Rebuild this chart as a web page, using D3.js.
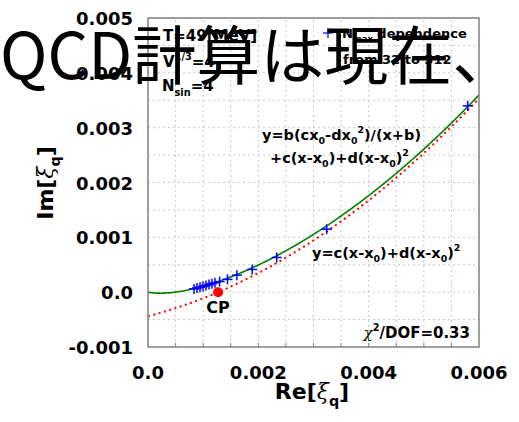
<!DOCTYPE html>
<html>
<head>
<meta charset="utf-8">
<script src="https://cdn.jsdelivr.net/npm/d3@7"></script>
<style>
body { margin: 0; background: #fff; }
text { font-family: "DejaVu Sans", sans-serif; font-weight: bold; fill: #000; }
</style>
</head>
<body>
<svg id="chart" width="519" height="422"></svg>
<script>
// axis ticks
const xTicks = [0, 0.002, 0.004, 0.006];
const xTickLabels = ['0.0', '0.002', '0.004', '0.006'];
const yTicks = [-0.001, 0, 0.001, 0.002, 0.003, 0.004, 0.005];
const yTickLabels = ['-0.001', '0.0', '0.001', '0.002', '0.003', '0.004', '0.005'];

// N_max dependence points (N = 512 ... 32)
const reXi = [0.000834, 0.000888, 0.000943, 0.000997, 0.001051, 0.001106, 0.001160, 0.001214,
              0.001298, 0.001441, 0.001611, 0.001889, 0.002333, 0.003239, 0.005795];
const imXi = [0.000060, 0.000075, 0.000090, 0.000105, 0.000120, 0.000138, 0.000155, 0.000172,
              0.000192, 0.000233, 0.000310, 0.000414, 0.000633, 0.001149, 0.003398];

// critical point
const cpRe = 0.00127;
const cpIm = 0;

// fit parameters
const fitB = 0.001;
const fitC = 0.43;
const fitD = 67;
const fitX0 = 0.00127;

const svg = d3.select('#chart');
const x = d3.scaleLinear().domain([0, 0.006]).range([148, 479]);
const y = d3.scaleLinear().domain([-0.001, 0.005]).range([347, 18]);

// grid
const grid = svg.append('g').attr('stroke', '#c8c8c8').attr('stroke-dasharray', '2,3').attr('stroke-width', 1);
d3.range(1, 12).map(i => i * 0.0005).forEach(v => {
  grid.append('line').attr('x1', x(v)).attr('x2', x(v)).attr('y1', y(-0.001)).attr('y2', y(0.005));
});
d3.range(1, 12).map(i => -0.001 + i * 0.0005).forEach(v => {
  grid.append('line').attr('x1', x(0)).attr('x2', x(0.006)).attr('y1', y(v)).attr('y2', y(v));
});

// minor ticks
const ticks = svg.append('g').attr('stroke', '#808080').attr('stroke-width', 1);
d3.range(1, 12).map(i => i * 0.0005).forEach(v => {
  ticks.append('line').attr('x1', x(v)).attr('x2', x(v)).attr('y1', y(-0.001)).attr('y2', y(-0.001) - 4);
});

// fit curves
const fitRed = t => fitC * (t - fitX0) + fitD * (t - fitX0) ** 2;
const fitGreen = t => fitB * (fitC * fitX0 - fitD * fitX0 ** 2) / (t + fitB) + fitRed(t);
const xs = d3.range(0, 0.00601, 0.00002);
const clipId = 'plotclip';
svg.append('clipPath').attr('id', clipId).append('rect')
  .attr('x', x(0)).attr('y', y(0.005)).attr('width', x(0.006) - x(0)).attr('height', y(-0.001) - y(0.005));

svg.append('path')
  .attr('clip-path', `url(#${clipId})`)
  .attr('d', d3.line().x(t => x(t)).y(t => y(fitRed(t)))(xs))
  .attr('fill', 'none').attr('stroke', '#ff0000').attr('stroke-width', 2)
  .attr('stroke-dasharray', '2,3.5');

svg.append('path')
  .attr('clip-path', `url(#${clipId})`)
  .attr('d', d3.line().x(t => x(t)).y(t => y(fitGreen(t)))(xs))
  .attr('fill', 'none').attr('stroke', '#008000').attr('stroke-width', 1.6);

// data points
const pts = svg.append('g').attr('stroke', '#0000ff').attr('stroke-width', 1.5);
reXi.forEach((re, i) => {
  const px = x(re), py = y(imXi[i]);
  pts.append('line').attr('x1', px - 5).attr('x2', px + 5).attr('y1', py).attr('y2', py);
  pts.append('line').attr('x1', px).attr('x2', px).attr('y1', py - 5).attr('y2', py + 5);
});

// CP
svg.append('circle').attr('cx', x(cpRe)).attr('cy', y(cpIm)).attr('r', 5).attr('fill', '#ff0000');

// frame
svg.append('rect').attr('x', x(0)).attr('y', y(0.005)).attr('width', x(0.006) - x(0)).attr('height', y(-0.001) - y(0.005))
  .attr('fill', 'none').attr('stroke', '#808080').attr('stroke-width', 1.5);

// tick labels
yTicks.forEach((v, i) => {
  svg.append('text').attr('x', 133).attr('y', y(v) + 7).attr('text-anchor', 'end')
    .attr('font-size', 18).text(yTickLabels[i]);
});
xTicks.forEach((v, i) => {
  svg.append('text').attr('x', x(v)).attr('y', 379).attr('text-anchor', 'middle')
    .attr('font-size', 18).text(xTickLabels[i]);
});

// rich text helper
function rich(parent, px, py, parts, size, anchor) {
  const t = parent.append('text').attr('x', px).attr('y', py)
    .attr('font-size', size).attr('text-anchor', anchor || 'start');
  let shift = 0;
  parts.forEach(([s, k]) => {
    const target = k === 'sub' ? size * 0.3 : k === 'sup' ? -size * 0.45 : 0;
    const ts = t.append('tspan').text(s).attr('dy', target - shift);
    shift = target;
    if (k === 'sub' || k === 'sup') ts.attr('font-size', size * 0.65);
    if (k === 'it') ts.attr('font-family', '"DejaVu Serif", serif').attr('font-style', 'italic').attr('font-weight', 'normal');
  });
  return t;
}

// axis titles
rich(svg, 312, 399, [['Re[', 'n'], ['ξ', 'it'], ['q', 'sub'], [']', 'n']], 22, 'middle');
rich(svg.append('g').attr('transform', 'translate(53,183) rotate(-90)'), 0, 0,
  [['Im[', 'n'], ['ξ', 'it'], ['q', 'sub'], [']', 'n']], 22, 'middle');

// annotations
rich(svg, 163, 41, [['T=49[MeV]', 'n']], 15);
rich(svg, 163, 67, [['V', 'n'], ['1/3', 'sup'], ['=4', 'n']], 15);
rich(svg, 162, 91, [['N', 'n'], ['sin', 'sub'], ['=4', 'n']], 15);

const lg = svg.append('g').attr('stroke', '#0000ff').attr('stroke-width', 1.2);
lg.append('line').attr('x1', 323).attr('x2', 333).attr('y1', 33).attr('y2', 33);
lg.append('line').attr('x1', 328).attr('x2', 328).attr('y1', 28).attr('y2', 38);
rich(svg, 342, 38, [['N', 'n'], ['max', 'sub'], [' dependence', 'n']], 13);
rich(svg, 343, 64, [['from 32 to 512', 'n']], 13);

rich(svg, 262, 140, [['y=b(cx', 'n'], ['0', 'sub'], ['-dx', 'n'], ['0', 'sub'], ['2', 'sup'], [')/(x+b)', 'n']], 14.5);
rich(svg, 270, 163, [['+c(x-x', 'n'], ['0', 'sub'], [')+d(x-x', 'n'], ['0', 'sub'], [')', 'n'], ['2', 'sup']], 14.5);
rich(svg, 312, 258, [['y=c(x-x', 'n'], ['0', 'sub'], [')+d(x-x', 'n'], ['0', 'sub'], [')', 'n'], ['2', 'sup']], 14.5);
rich(svg, 470, 338, [['χ', 'it'], ['2', 'sup'], ['/DOF=0.33', 'n']], 15, 'end');

svg.append('text').attr('x', x(cpRe)).attr('y', 313).attr('text-anchor', 'middle')
  .attr('font-size', 16).text('CP');

// overlay title
svg.append('text').attr('x', 0).attr('y', 79)
  .style('font-family', '"Noto Sans CJK JP", sans-serif').style('font-weight', 'normal')
  .attr('font-size', 64).text('QCD計算は現在、');
</script>
</body>
</html>
